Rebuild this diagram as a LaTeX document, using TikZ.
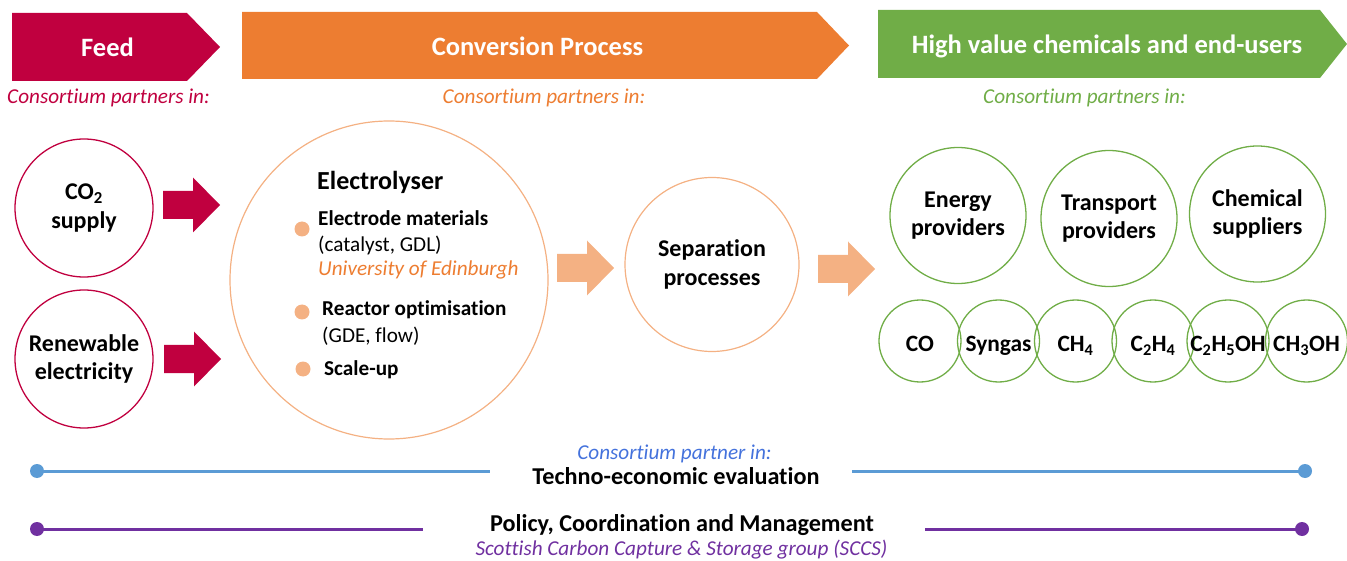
\documentclass[tikz,border=0pt]{standalone}
\usepackage{fontspec}
\setmainfont{Carlito}[Ligatures=NoCommon]

% palette
\definecolor{feedred}{RGB}{192,0,63}
\definecolor{convorange}{RGB}{237,125,49}
\definecolor{lightorange}{RGB}{244,177,131}
\definecolor{endgreen}{RGB}{112,173,71}
\definecolor{lineblue}{RGB}{91,155,213}
\definecolor{partnerblue}{RGB}{68,114,220}
\definecolor{sccspurple}{RGB}{112,48,160}

\tikzset{
  banner/.style={text=white, inner sep=0, anchor=base,
    font=\bfseries\fontsize{26.5}{30}\selectfont},
  partners/.style={inner sep=0, anchor=base,
    font=\itshape\fontsize{21.2}{25}\selectfont},
  ring/.style={circle, draw, line width=1.3pt, inner sep=0, align=center,
    text=black, font=\bfseries\fontsize{24}{28.5}\selectfont},
  feedring/.style={ring, draw=feedred, minimum size=138},
  userring/.style={ring, draw=endgreen, minimum size=136},
  productring/.style={circle, draw=endgreen, line width=1.3pt, inner sep=0,
    minimum size=82, text height=22pt, text depth=0pt,
    font=\bfseries\fontsize{23.4}{27}\selectfont},
  procring/.style={ring, draw=lightorange, line width=1.2pt},
  itemhead/.style={inner sep=0, anchor=base west,
    font=\bfseries\fontsize{21.2}{25}\selectfont},
  itemtext/.style={inner sep=0, anchor=base west,
    font=\fontsize{21.2}{25}\selectfont},
  bulletdot/.style={circle, fill=lightorange, inner sep=0, minimum size=15},
  enddot/.style={circle, fill=#1, inner sep=0, minimum size=14},
  track/.style={line width=3pt, draw=#1},
  bottomtitle/.style={inner sep=0, anchor=base,
    font=\bfseries\fontsize{24.2}{28}\selectfont},
  pics/fatarrow/.style={code={
    \fill (0,-14) -- (30,-14) -- (30,-27.5) -- (57,0) -- (30,27.5)
      -- (30,14) -- (0,14) -- cycle;}}
}

\begin{document}
\begin{tikzpicture}[x=1pt, y=-1pt]
\useasboundingbox (0,0) rectangle (1347,561);

% stage banners
\fill[feedred] (12,13) -- (187,13) -- (220,47) -- (187,81) -- (12,81) -- cycle;
\fill[convorange] (242,12) -- (817,12) -- (849,45.5) -- (817,79) -- (242,79) -- cycle;
\fill[endgreen] (878,10) -- (1320,10) -- (1347,44) -- (1320,78) -- (878,78) -- cycle;
\node[banner] (feedtitle) at (107.5,57) {Feed};
\node[banner] (convtitle) at (537.5,56) {Conversion Process};
\node[banner] (endtitle) at (1107,53.5) {High value chemicals and end-users};

\node[partners, text=feedred] (feedpart) at (108.5,104) {Consortium partners in:};
\node[partners, text=convorange] (convpart) at (544,104) {Consortium partners in:};
\node[partners, text=endgreen] (endpart) at (1084.5,104) {Consortium partners in:};

% feed
\node[feedring] (co2) at (84,208) {CO\textsubscript{2}\\supply};
\node[feedring] (renew) at (84,359) {Renewable\\electricity};
\pic[feedred] at (163,205) {fatarrow};
\pic[feedred] at (164,359) {fatarrow};

% electrolyser
\node[procring, minimum size=318] (electrolyser) at (389,280) {};
\node[inner sep=0, anchor=base west, font=\bfseries\fontsize{26}{30}\selectfont]
  (elhead) at (317,190) {Electrolyser};
\node[bulletdot] (b1) at (302,229) {};
\node[bulletdot] (b2) at (302,312) {};
\node[bulletdot] (b3) at (303,369) {};
\node[itemhead] (electrode) at (318,226) {Electrode materials};
\node[itemtext] (catalyst) at (318,252) {(catalyst, GDL)};
\node[itemtext, font=\itshape\fontsize{21.2}{25}\selectfont, text=convorange]
  (edinburgh) at (318,276) {University of Edinburgh};
\node[itemhead] (reactor) at (322,316) {Reactor optimisation};
\node[itemtext] (gde) at (322,342) {(GDE, flow)};
\node[itemhead] (scaleup) at (324,375) {Scale-up};

\pic[lightorange] at (557,268) {fatarrow};

% separation
\node[procring, minimum size=174] (separation) at (712,264.5) {Separation\\processes};
\pic[lightorange] at (818,269) {fatarrow};

% end-users
\node[userring] (energy) at (958,215.5) {Energy\\providers};
\node[userring] (transport) at (1109,218.5) {Transport\\providers};
\node[userring] (chemical) at (1257.5,214) {Chemical\\suppliers};

% products
\node[productring] (co) at (920,341) {CO};
\node[productring] (syngas) at (998.5,341) {Syngas};
\node[productring] (ch4) at (1075.5,341) {CH\textsubscript{4}};
\node[productring] (c2h4) at (1153,341) {C\textsubscript{2}H\textsubscript{4}};
\node[productring] (c2h5oh) at (1228,341) {C\textsubscript{2}H\textsubscript{5}OH};
\node[productring] (ch3oh) at (1306.5,341) {CH\textsubscript{3}OH};

% techno-economic track
\node[enddot=lineblue] (teL) at (37,471) {};
\node[enddot=lineblue] (teR) at (1305,471) {};
\coordinate (teLend) at (490,471);
\coordinate (teRend) at (852,471);
\draw[track=lineblue] (teL.center) -- (teLend);
\draw[track=lineblue] (teRend) -- (teR.center);
\node[partners, text=partnerblue] (tepart) at (674.5,459) {Consortium partner in:};
\node[bottomtitle] (tetitle) at (676,484) {Techno-economic evaluation};

% policy track
\node[enddot=sccspurple] (pcL) at (37,529) {};
\node[enddot=sccspurple] (pcR) at (1302,529) {};
\coordinate (pcLend) at (423,529);
\coordinate (pcRend) at (925,529);
\draw[track=sccspurple] (pcL.center) -- (pcLend);
\draw[track=sccspurple] (pcRend) -- (pcR.center);
\node[bottomtitle] (pctitle) at (682,531) {Policy, Coordination and Management};
\node[partners, text=sccspurple] (sccs) at (681.5,555)
  {Scottish Carbon Capture \& Storage group (SCCS)};
\end{tikzpicture}
\end{document}
